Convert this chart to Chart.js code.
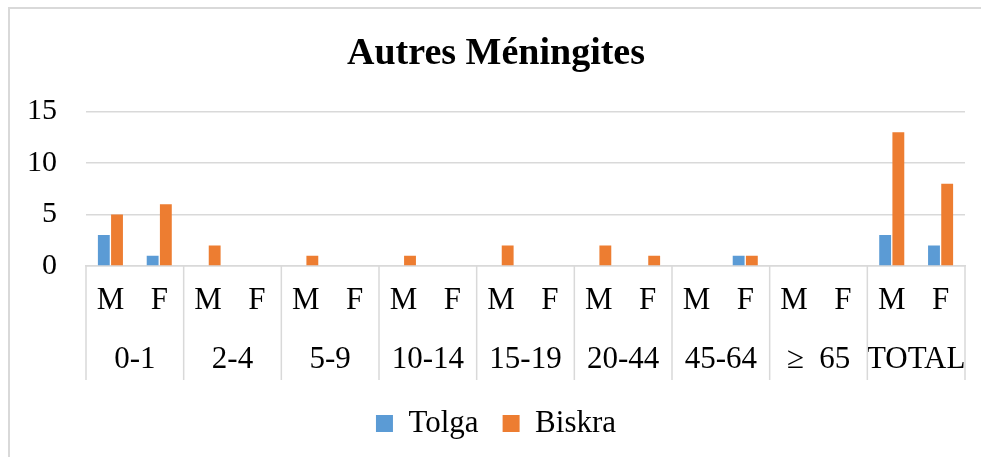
<!DOCTYPE html>
<html>
<head>
<meta charset="utf-8">
<script src="https://cdn.jsdelivr.net/npm/chart.js@4/dist/chart.umd.min.js"></script>
<style>
  html, body { margin: 0; padding: 0; background: #fff; overflow: hidden; }
  #wrap { position: relative; width: 981px; height: 457px; overflow: hidden; }
  #frame { position: absolute; left: 8px; top: 7px; width: 2000px; height: 2000px;
           border-left: 2px solid #d9d9d9; border-top: 2px solid #d9d9d9; pointer-events: none; }
  canvas { position: absolute; left: 0; top: 0; }
</style>
</head>
<body>
<div id="wrap">
  <canvas id="chart" width="981" height="457"></canvas>
  <div id="frame"></div>
</div>
<script>
// sex labels (first row) and age groups (second row)
const sexLabels = ['M', 'F', 'M', 'F', 'M', 'F', 'M', 'F', 'M', 'F', 'M', 'F', 'M', 'F', 'M', 'F', 'M', 'F'];
const ageGroups = ['0-1', '2-4', '5-9', '10-14', '15-19', '20-44', '45-64', '\u2265  65', 'TOTAL'];

const tolga  = [3, 1, 0, 0, 0, 0, 0, 0, 0, 0, 0, 0, 0, 1, 0, 0, 3, 2];
const biskra = [5, 6, 2, 0, 1, 0, 1, 0, 2, 0, 2, 1, 0, 1, 0, 0, 13, 8];

const FONT = "'Liberation Serif', 'Times New Roman', serif";
const GRID = '#d9d9d9';

// vertical separators between age groups, spanning both label rows
const groupSeparators = {
    id: 'groupSeparators',
    afterDraw(chart) {
        const x = chart.scales.x;
        const x2 = chart.scales.x2;
        const c = chart.ctx;
        c.save();
        c.strokeStyle = GRID;
        c.lineWidth = 1.5;
        for (let g = 0; g <= ageGroups.length; g++) {
            let px;
            if (g === 0) px = x.left;
            else if (g === ageGroups.length) px = x.right;
            else px = (x.getPixelForValue(2 * g - 1) + x.getPixelForValue(2 * g)) / 2;
            c.beginPath();
            c.moveTo(px, x.top);
            c.lineTo(px, x2.bottom - 4);
            c.stroke();
        }
        c.restore();
    }
};

// fixed axis sizes; drop the side padding Chart.js adds for wide edge labels
const fixHeight = (h) => (s) => { s.height = h; s.paddingLeft = 0; s.paddingRight = 0; };

const ctx = document.getElementById('chart').getContext('2d');
new Chart(ctx, {
    type: 'bar',
    data: {
        labels: sexLabels,
        datasets: [
            {
                label: 'Tolga',
                data: tolga,
                backgroundColor: '#5b9bd5',
                categoryPercentage: 0.54,
                barPercentage: 0.9
            },
            {
                label: 'Biskra',
                data: biskra,
                backgroundColor: '#ed7d31',
                categoryPercentage: 0.54,
                barPercentage: 0.9
            }
        ]
    },
    options: {
        responsive: false,
        animation: false,
        layout: {
            padding: { left: 27, right: 16, top: 0, bottom: 8 }
        },
        scales: {
            x: {
                position: 'bottom',
                grid: { display: false, drawTicks: false },
                border: { display: true, color: GRID, width: 1.5 },
                ticks: {
                    padding: 16,
                    color: '#000',
                    font: { family: FONT, size: 31 },
                    maxRotation: 0,
                    autoSkip: false
                },
                afterFit: fixHeight(52)
            },
            x2: {
                type: 'category',
                position: 'bottom',
                labels: ageGroups,
                grid: { display: false, drawTicks: false },
                border: { display: false },
                ticks: {
                    padding: 23,
                    color: '#000',
                    font: { family: FONT, size: 31 },
                    maxRotation: 0,
                    autoSkip: false
                },
                afterFit: fixHeight(66)
            },
            y: {
                min: 0,
                max: 15,
                grid: {
                    color: GRID,
                    lineWidth: 1.5,
                    drawTicks: false
                },
                border: { display: false },
                ticks: {
                    stepSize: 5,
                    padding: 29,
                    color: '#000',
                    font: { family: FONT, size: 30 }
                },
                afterFit: (s) => { s.width = 59; }
            }
        },
        plugins: {
            title: {
                display: true,
                text: 'Autres Méningites',
                color: '#000',
                font: { family: FONT, size: 38, weight: 'bold' },
                padding: { top: 31, bottom: 35 }
            },
            legend: {
                position: 'bottom',
                labels: {
                    boxWidth: 17,
                    boxHeight: 17,
                    color: '#000',
                    padding: 24,
                    font: { family: FONT, size: 31 }
                }
            },
            tooltip: { enabled: false }
        }
    },
    plugins: [groupSeparators]
});
</script>
</body>
</html>
